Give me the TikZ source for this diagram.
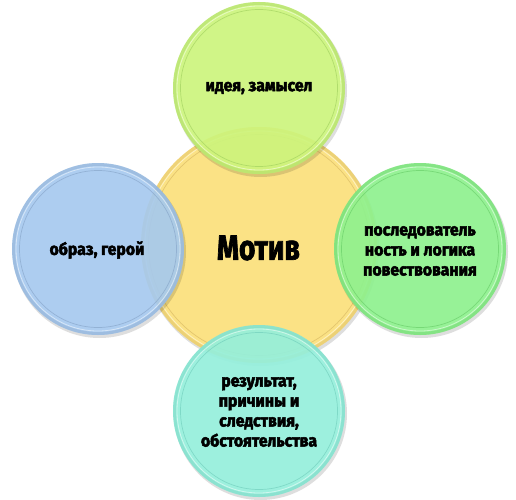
\documentclass[tikz,border=0pt]{standalone}
\usepackage{fontspec}
\newfontfamily\cf{Fira Sans}[FakeStretch=0.93, BoldFeatures={FakeBold=3}]
\newfontfamily\cfb{Fira Sans}[FakeStretch=0.8, BoldFeatures={FakeBold=2}]
\definecolor{cTop}{HTML}{CFF87E}
\definecolor{rTop}{HTML}{A0D05E}
\definecolor{cMid}{HTML}{FFE37C}
\definecolor{rMid}{HTML}{D6B660}
\definecolor{cLeft}{HTML}{A8CCF2}
\definecolor{rLeft}{HTML}{86A4C8}
\definecolor{cRight}{HTML}{90F590}
\definecolor{rRight}{HTML}{66CC66}
\definecolor{cBot}{HTML}{96F3DF}
\definecolor{rBot}{HTML}{70CDBB}
\tikzset{
  lbl/.style={font=\cf\bfseries\fontsize{17}{20}\selectfont, align=center, text=black, inner sep=0pt},
  big/.style={font=\cfb\bfseries\fontsize{35}{40}\selectfont, text=black, inner sep=0pt},
}
\newcommand\mybubble[5]{%
  \fill[black,opacity=0.13] (#1+1.5,#2-2.5) circle[radius=#3+0.5];
  \fill[#4, fill opacity=0.9] (#1,#2) circle[radius=#3];
  \draw[#5, line width=3pt, opacity=0.38] (#1,#2) circle[radius=#3-1.5];
  \draw[white, line width=0.8pt, opacity=0.5] (#1,#2) circle[radius=#3-4];
  \draw[#5, line width=0.7pt, opacity=0.65] (#1,#2) circle[radius=#3-7.5];
}
\begin{document}
\begin{tikzpicture}[x=1pt,y=1pt]
\useasboundingbox[fill=white] (0,0) rectangle (516,499);
\mybubble{259}{254}{118}{cMid}{rMid}
\mybubble{259}{411}{86}{cTop}{rTop}
\mybubble{98}{250}{86}{cLeft}{rLeft}
\mybubble{420}{250}{86}{cRight}{rRight}
\mybubble{259}{88}{86}{cBot}{rBot}
\node[big] (mid) at (258.5,251) {Мотив};
\node[lbl] (top) at (259,411) {идея, замысел};
\node[lbl] (left) at (97,249) {образ, герой};
\node[lbl] (right) at (420,248) {последователь\\ность и логика\\повествования};
\node[lbl] (bot) at (259,87) {результат,\\причины и\\следствия,\\обстоятельства};
\end{tikzpicture}
\end{document}
